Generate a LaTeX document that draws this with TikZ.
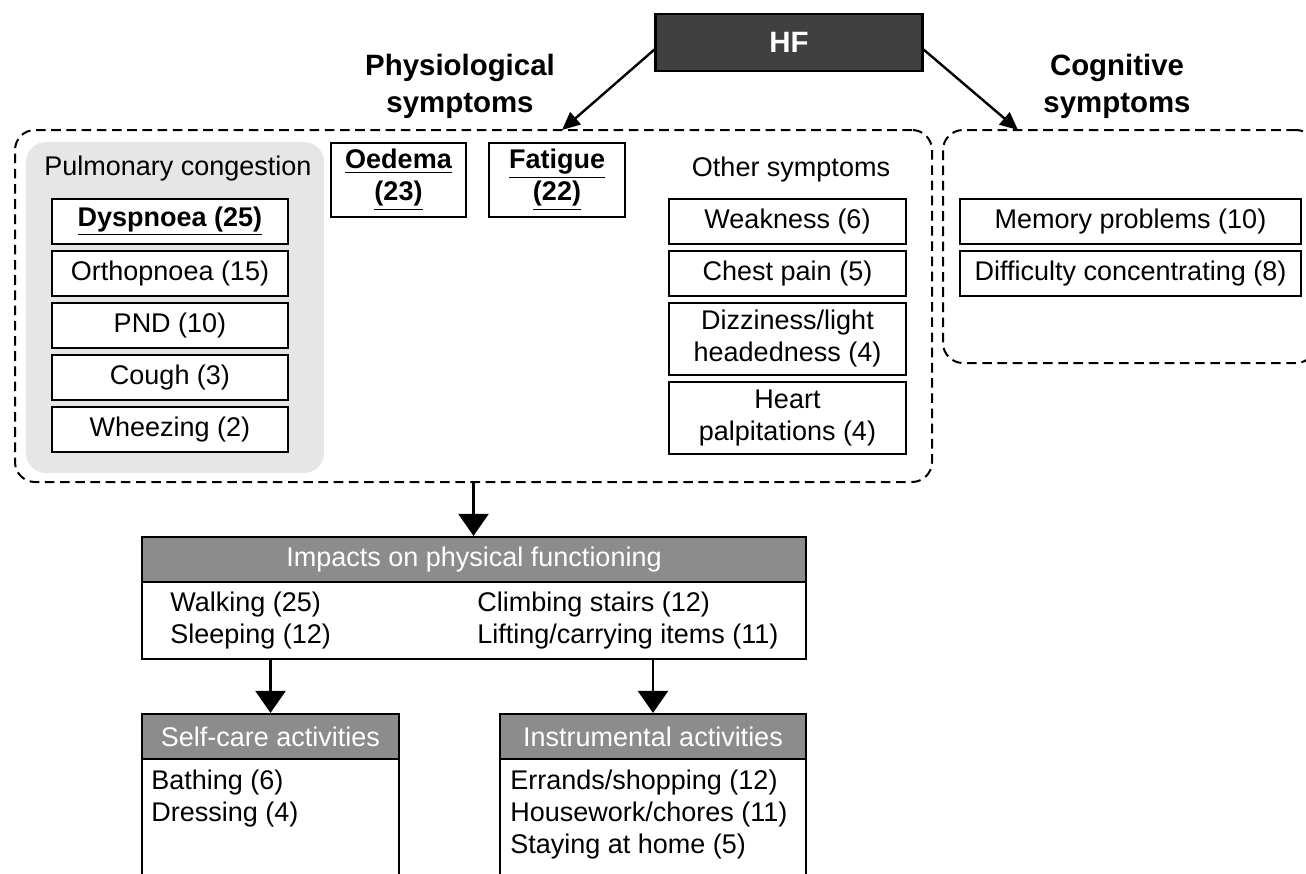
\documentclass[tikz,border=0pt]{standalone}
\usepackage{fontspec}
\setmainfont{Liberation Sans}
\usetikzlibrary{arrows.meta}
\definecolor{hfgray}{HTML}{404040}
\definecolor{hdrgray}{HTML}{8C8C8C}
\definecolor{pulmgray}{HTML}{E6E6E6}
\begin{document}
\begin{tikzpicture}[x=0.5pt,y=-0.5pt, font=\fontsize{13.5}{16}\selectfont,
 box/.style={draw=black, line width=1.1pt, fill=white, inner sep=0pt, align=center},
 dbox/.style={draw=black, line width=1pt, dash pattern=on 4.8pt off 2.8pt, rounded corners=10pt, inner sep=0pt},
 arr/.style={line width=1.2pt, -{Triangle[length=9pt,width=8pt]}},
 bigarr/.style={line width=1.2pt, -{Triangle[length=11pt,width=15pt]}},
 hdr/.style={draw=black, line width=1.1pt, fill=hdrgray, text=white, inner sep=0pt},
 body/.style={draw=black, line width=1.1pt, fill=white, inner sep=0pt},
 title/.style={font=\fontsize{14.7}{18.5}\selectfont\bfseries, align=center},
 item/.style={anchor=west, inner sep=0pt}]
\useasboundingbox (0,0) rectangle (1306,873);
\clip (0,0) rectangle (1306,873);

% dashed groups
\node[dbox, minimum width=458.5pt, minimum height=176pt] (phys) at (473.5,306) {};
\node[dbox, minimum width=186.5pt, minimum height=116.5pt] (cog) at (1129.5,246.5) {};

% HF
\node[draw=black, line width=1.1pt, fill=hfgray, text=white, font=\fontsize{14.7}{18}\selectfont\bfseries,
      minimum width=133.5pt, minimum height=28.5pt, inner sep=0pt] (hf) at (789,42.5) {HF};

% titles
\node[title] (phystitle) at (460,86.5) {Physiological\\symptoms};
\node[title] (cogtitle) at (1117,86.5) {Cognitive\\symptoms};

\coordinate (physin) at (562,130);
\coordinate (cogin) at (1018,130);
\draw[arr] (hf.183) -- (physin);
\draw[arr] (hf.357) -- (cogin);

% pulmonary congestion
\node[fill=pulmgray, rounded corners=10pt, minimum width=149pt, minimum height=165.5pt, inner sep=0pt] (pulm) at (175,307.5) {};
\node (pulmlab) at (178,169) {Pulmonary congestion};
\node[box, minimum width=118pt, minimum height=22.5pt] (dysp) at (170,221.5) {\underline{\textbf{Dyspnoea (25)}}};
\node[box, minimum width=118pt, minimum height=22.5pt] (orth) at (170,273.5) {Orthopnoea (15)};
\node[box, minimum width=118pt, minimum height=22.5pt] (pnd) at (170,325.5) {PND (10)};
\node[box, minimum width=118pt, minimum height=22.5pt] (cough) at (170,377.5) {Cough (3)};
\node[box, minimum width=118pt, minimum height=22.5pt] (wheez) at (170,429.5) {Wheezing (2)};

% oedema, fatigue
\node[box, minimum width=67.5pt, minimum height=37pt] (oed) at (398.5,180) {\textbf{\underline{Oedema}}\\\textbf{\underline{(23)}}};
\node[box, minimum width=68pt, minimum height=37pt] (fat) at (557,180) {\textbf{\underline{Fatigue}}\\\textbf{\underline{(22)}}};

% other symptoms
\node (otherlab) at (791,170) {Other symptoms};
\node[box, minimum width=118.5pt, minimum height=22.5pt] (weak) at (787.5,221.5) {Weakness (6)};
\node[box, minimum width=118.5pt, minimum height=22.5pt] (chest) at (787.5,273.5) {Chest pain (5)};
\node[box, minimum width=118.5pt, minimum height=36pt] (dizz) at (787.5,339) {Dizziness/light\\headedness (4)};
\node[box, minimum width=118.5pt, minimum height=36pt] (heart) at (787.5,418) {Heart\\palpitations (4)};

% cognitive
\node[box, minimum width=170.5pt, minimum height=22.5pt] (mem) at (1130.5,221.5) {Memory problems (10)};
\node[box, minimum width=170.5pt, minimum height=22.5pt] (conc) at (1130.5,273.5) {Difficulty concentrating (8)};

% impacts
\node[hdr, minimum width=332pt, minimum height=22.5pt] (imph) at (474,559.5) {Impacts on physical functioning};
\node[body, minimum width=332pt, minimum height=38.5pt] (impb) at (474,620.5) {};
\node[item] (walk) at (170,605) {Walking (25)};
\node[item] (sleep) at (170,637) {Sleeping (12)};
\node[item] (climb) at (477,605) {Climbing stairs (12)};
\node[item] (lift) at (477,637) {Lifting/carrying items (11)};
\draw[bigarr] (phys.south) -- (phys.south |- imph.north);

% self-care
\node[hdr, minimum width=128.5pt, minimum height=22.5pt] (selfh) at (270.5,736.5) {Self-care activities};
\node[body, minimum width=128.5pt, minimum height=65.5pt] (selfb) at (270.5,824.5) {};
\node[item] (bath) at (151,783) {Bathing (6)};
\node[item] (dress) at (151,815) {Dressing (4)};

% instrumental
\node[hdr, minimum width=153pt, minimum height=22.5pt] (insth) at (653,736.5) {Instrumental activities};
\node[body, minimum width=153pt, minimum height=65.5pt] (instb) at (653,824.5) {};
\node[item] (errand) at (510,783) {Errands/shopping (12)};
\node[item] (house) at (510,815) {Housework/chores (11)};
\node[item] (stay) at (510,847) {Staying at home (5)};

\draw[bigarr] (impb.south -| selfh.north) -- (selfh.north);
\draw[bigarr] (impb.south -| insth.north) -- (insth.north);
\end{tikzpicture}
\end{document}
